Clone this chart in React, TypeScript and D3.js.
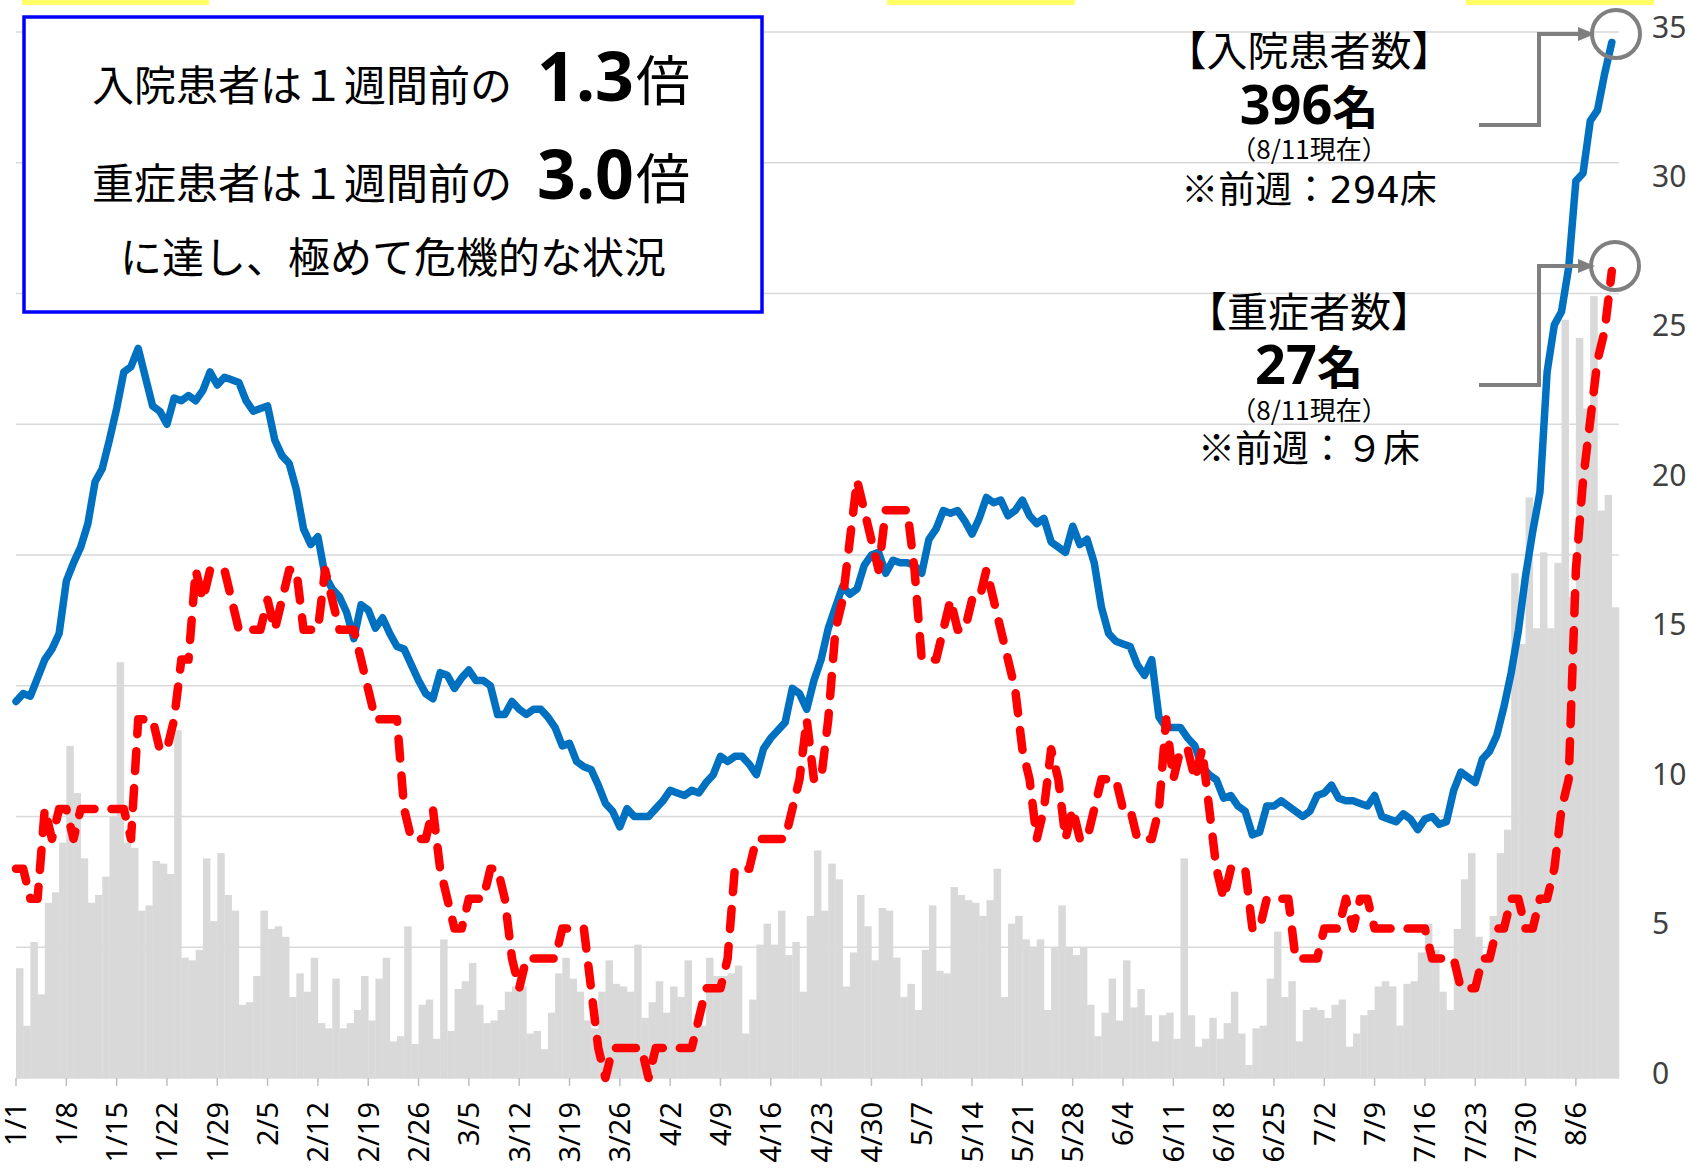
import { useEffect, useRef } from "react";
import * as d3 from "d3";

const W = 1690;
const H = 1168;
const PLOT = { left: 16, right: 1619, top: 32, bottom: 1078 };

// 1/1 .. 8/11 (2021)
const days = d3.timeDay
  .range(new Date(2021, 0, 1), new Date(2021, 7, 12))
  .map((d) => `${d.getMonth() + 1}/${d.getDate()}`);

// 入院患者数 (left axis, 0-400)
const inpatients = [
  144, 147, 146, 153, 160, 164, 170, 190, 197, 203,
  212, 228, 233, 244, 256, 270, 272, 279, 268, 257,
  255, 250, 260, 259, 261, 259, 263, 270, 265, 268,
  267, 266, 259, 255, 256, 257, 244, 238, 235, 225,
  210, 204, 207, 192, 187, 184, 178, 168, 181, 179,
  172, 176, 170, 165, 164, 158, 152, 147, 145, 155,
  154, 149, 153, 156, 152, 152, 150, 139, 139, 144,
  141, 139, 141, 141, 138, 134, 127, 128, 121, 119,
  118, 112, 105, 102, 96, 103, 100, 100, 100, 103,
  106, 110, 109, 108, 110, 109, 113, 116, 123, 121,
  123, 123, 120, 116, 126, 130, 133, 136, 149, 147,
  141, 152, 160, 172, 180, 188, 185, 187, 196, 200,
  201, 193, 198, 197, 197, 196, 193, 206, 210, 217,
  216, 217, 213, 208, 214, 222, 220, 221, 215, 217,
  221, 215, 212, 214, 205, 203, 201, 211, 204, 206,
  197, 180, 170, 167, 166, 165, 158, 154, 160, 138,
  134, 134, 134, 130, 127, 119, 116, 114, 107, 108,
  104, 102, 93, 94, 104, 104, 106, 104, 102, 100,
  102, 108, 109, 112, 107, 106, 106, 105, 104, 108,
  100, 99, 98, 101, 99, 95, 99, 100, 97, 98,
  110, 117, 115, 113, 122, 125, 131, 142, 155, 171,
  192, 209, 224, 270, 288, 293, 310, 343, 346, 366,
  370, 384, 396,
];

// 重症者数 (right axis, 0-35)
const severe = [
  7, 7, 6, 6, 9, 8, 9, 9, 8, 9,
  9, 9, 9, 9, 9, 9, 8, 12, 12, 12,
  11, 11, 12, 14, 14, 17, 16, 17, 17, 17,
  16, 15, 15, 15, 15, 16, 15, 16, 17, 17,
  15, 15, 15, 17, 16, 15, 15, 15, 14, 13,
  12, 12, 12, 12, 9, 8, 8, 8, 9, 7,
  6, 5, 5, 6, 6, 6, 7, 7, 6, 4,
  3, 4, 4, 4, 4, 4, 5, 5, 5, 5,
  3, 1, 0, 1, 1, 1, 1, 1, 0, 1,
  1, 1, 1, 1, 1, 2, 3, 3, 3, 4,
  7, 7, 7, 8, 8, 8, 8, 8, 9, 10,
  12, 10, 10, 12, 15, 16, 18, 20, 19, 18,
  17, 19, 19, 19, 19, 17, 14, 14, 14, 15,
  16, 15, 15, 16, 16, 17, 16, 15, 14, 13,
  11, 10, 8, 9, 11, 10, 8, 9, 8, 8,
  9, 10, 10, 10, 9, 9, 8, 8, 8, 9,
  12, 10, 11, 11, 10, 11, 9, 7, 6, 7,
  7, 7, 5, 5, 6, 6, 6, 6, 4, 4,
  4, 4, 5, 5, 5, 6, 5, 6, 6, 5,
  5, 5, 5, 5, 5, 5, 5, 4, 4, 4,
  4, 3, 3, 3, 4, 4, 5, 5, 6, 6,
  5, 5, 6, 6, 7, 9, 10, 17, 20, 22,
  24, 25, 27,
];

// 日別の棒 (left axis scale)
const dailyBars = [
  42, 20, 52, 32, 67, 71, 90, 127, 109, 84,
  67, 70, 77, 100, 159, 90, 88, 64, 66, 83,
  82, 78, 133, 46, 45, 49, 84, 60, 86, 70,
  64, 28, 29, 39, 64, 57, 58, 54, 31, 40,
  33, 46, 21, 19, 38, 19, 21, 26, 39, 22,
  38, 46, 14, 16, 58, 13, 28, 30, 15, 53,
  18, 34, 37, 44, 28, 21, 22, 26, 33, 35,
  35, 17, 18, 11, 25, 40, 46, 38, 33, 22,
  19, 33, 45, 36, 35, 33, 51, 23, 29, 37,
  25, 35, 31, 45, 20, 20, 46, 39, 39, 40,
  43, 17, 30, 51, 59, 51, 64, 47, 52, 33,
  62, 87, 64, 82, 76, 35, 48, 70, 58, 45,
  65, 64, 46, 31, 36, 26, 49, 66, 41, 40,
  73, 70, 68, 67, 62, 68, 80, 31, 59, 62,
  53, 50, 53, 26, 50, 66, 50, 47, 50, 28,
  16, 25, 38, 22, 45, 27, 34, 24, 14, 24,
  25, 15, 84, 24, 12, 15, 23, 15, 21, 33,
  17, 5, 19, 20, 38, 56, 31, 37, 14, 26,
  27, 26, 23, 28, 30, 12, 17, 24, 26, 35,
  37, 35, 20, 36, 37, 48, 59, 49, 33, 26,
  57, 76, 86, 54, 44, 62, 86, 95, 193, 166,
  222, 172, 201, 172, 197, 290, 184, 283, 256, 299,
  217, 223, 180,
];

const xTickLabels = [
  "1/1", "1/8", "1/15", "1/22", "1/29", "2/5", "2/12", "2/19", "2/26",
  "3/5", "3/12", "3/19", "3/26", "4/2", "4/9", "4/16", "4/23", "4/30",
  "5/7", "5/14", "5/21", "5/28", "6/4", "6/11", "6/18", "6/25", "7/2",
  "7/9", "7/16", "7/23", "7/30", "8/6",
];
const leftGrid = [50, 100, 150, 200, 250, 300, 350, 400];
const rightTicks = [0, 5, 10, 15, 20, 25, 30, 35];

const JP = "'Noto Sans CJK JP', 'Noto Sans', sans-serif";
const NUM = "'Noto Sans', 'DejaVu Sans', sans-serif";

export default function App() {
  const svgRef = useRef<SVGSVGElement | null>(null);

  useEffect(() => {
    if (!svgRef.current) return;
    const svg = d3.select(svgRef.current);
    svg.selectAll("*").remove();

    const x = d3
      .scaleBand<string>()
      .domain(days)
      .range([PLOT.left, PLOT.right])
      .padding(0);
    const bw = x.bandwidth();
    const yL = d3.scaleLinear().domain([0, 400]).range([PLOT.bottom, PLOT.top]);
    const yR = d3.scaleLinear().domain([0, 35]).range([PLOT.bottom, PLOT.top]);

    // yellow tabs at top
    [
      [22, 209],
      [887, 1075],
      [1466, 1654],
    ].forEach(([a, b]) =>
      svg.append("rect").attr("x", a).attr("y", 0).attr("width", b - a).attr("height", 5).attr("fill", "#FFFF66")
    );

    // gridlines
    svg
      .append("g")
      .selectAll("line")
      .data(leftGrid)
      .join("line")
      .attr("x1", PLOT.left)
      .attr("x2", PLOT.right)
      .attr("y1", (d) => yL(d))
      .attr("y2", (d) => yL(d))
      .attr("stroke", "#D9D9D9")
      .attr("stroke-width", 1.5);

    // daily bars
    svg
      .append("g")
      .selectAll("rect")
      .data(dailyBars)
      .join("rect")
      .attr("x", (_d, i) => x(days[i])!)
      .attr("width", bw + 0.3)
      .attr("y", (d) => yL(d))
      .attr("height", (d) => yL(0) - yL(d))
      .attr("fill", "#D9D9D9");

    // baseline + ticks
    svg
      .append("line")
      .attr("x1", PLOT.left)
      .attr("x2", PLOT.right)
      .attr("y1", PLOT.bottom)
      .attr("y2", PLOT.bottom)
      .attr("stroke", "#D9D9D9")
      .attr("stroke-width", 1.5);

    const tickG = svg
      .append("g")
      .selectAll("g")
      .data(xTickLabels)
      .join("g")
      .attr("transform", (_d, i) => `translate(${x(days[i * 7])},0)`);
    tickG
      .append("line")
      .attr("y1", PLOT.bottom)
      .attr("y2", PLOT.bottom + 8)
      .attr("stroke", "#BFBFBF")
      .attr("stroke-width", 1.5);
    tickG
      .append("text")
      .attr("transform", `translate(0,${PLOT.bottom + 24}) rotate(-90)`)
      .attr("text-anchor", "end")
      .attr("dy", "0.36em")
      .attr("font-family", NUM)
      .attr("font-size", 29)
      .attr("fill", "#000")
      .text((d) => d);

    // right axis labels
    svg
      .append("g")
      .selectAll("text")
      .data(rightTicks)
      .join("text")
      .attr("x", 1652)
      .attr("y", (d) => yR(d) - 5)
      .attr("dy", "0.35em")
      .attr("font-family", NUM)
      .attr("font-size", 30)
      .attr("fill", "#404040")
      .text((d) => d);

    // line points sit on the tick (left edge of each day)
    const px = (i: number) => x(days[i])!;

    // 入院患者数 line
    const blueLine = d3
      .line<number>()
      .x((_d, i) => px(i))
      .y((d) => yL(d));
    svg
      .append("path")
      .attr("d", blueLine(inpatients) ?? "")
      .attr("fill", "none")
      .attr("stroke", "#0070C0")
      .attr("stroke-width", 7.5)
      .attr("stroke-linejoin", "round")
      .attr("stroke-linecap", "round");

    // 重症者数 line
    const redLine = d3
      .line<number>()
      .x((_d, i) => px(i))
      .y((d) => yR(d));
    svg
      .append("path")
      .attr("d", redLine(severe) ?? "")
      .attr("fill", "none")
      .attr("stroke", "#FF0000")
      .attr("stroke-width", 8.5)
      .attr("stroke-dasharray", "20 17")
      .attr("stroke-linejoin", "round")
      .attr("stroke-linecap", "round");

    // summary box
    svg
      .append("rect")
      .attr("x", 24)
      .attr("y", 17)
      .attr("width", 738)
      .attr("height", 295)
      .attr("fill", "#fff")
      .attr("stroke", "#0000FF")
      .attr("stroke-width", 3.5);

    const boxLine = (y: number, lead: string, big: string) => {
      const t = svg.append("text").attr("y", y).attr("fill", "#000");
      t.append("tspan").attr("x", 92).attr("font-family", JP).attr("font-size", 42).text(lead);
      t.append("tspan")
        .attr("x", 537)
        .attr("font-family", NUM)
        .attr("font-weight", "bold")
        .attr("font-size", 68)
        .text(big);
      t.append("tspan").attr("x", 636).attr("font-family", JP).attr("font-size", 54).text("倍");
    };
    boxLine(101, "入院患者は１週間前の", "1.3");
    boxLine(199, "重症患者は１週間前の", "3.0");
    svg
      .append("text")
      .attr("x", 393)
      .attr("y", 273)
      .attr("text-anchor", "middle")
      .attr("font-family", JP)
      .attr("font-size", 42)
      .attr("fill", "#000")
      .text("に達し、極めて危機的な状況");

    // annotations
    const ann = (
      y0: number,
      title: string,
      num: string,
      prev: string,
      prevNumFont: string,
      nd: number[]
    ) => {
      const g = svg.append("g").attr("text-anchor", "middle").attr("fill", "#000");
      g.append("text")
        .attr("x", 1309)
        .attr("y", y0)
        .attr("font-family", JP)
        .attr("font-size", 41)
        .text(title);
      const n = g.append("text").attr("x", 1309).attr("y", y0 + nd[0]).attr("font-weight", "bold");
      n.append("tspan").attr("font-family", NUM).attr("font-size", 54).text(num);
      n.append("tspan").attr("font-family", JP).attr("font-size", 46).text("名");
      g.append("text")
        .attr("x", 1309)
        .attr("y", y0 + nd[1])
        .attr("font-family", JP)
        .attr("font-size", 26)
        .text("（8/11現在）");
      const p = g.append("text").attr("x", 1309).attr("y", y0 + nd[2]).attr("font-size", 37);
      p.append("tspan").attr("font-family", JP).text("※前週：");
      p.append("tspan").attr("font-family", prevNumFont).attr("font-size", 37).text(prev);
      p.append("tspan").attr("font-family", JP).text("床");
    };
    ann(66, "【入院患者数】", "396", "294", "'DejaVu Sans', sans-serif", [58, 93, 137]);
    ann(327, "【重症者数】", "27", "９", JP, [57, 93, 135]);

    // connectors
    const connector = (yFrom: number, yTo: number, circleX: number) => {
      svg
        .append("path")
        .attr("d", `M1479,${yFrom}H1539V${yTo}H1580`)
        .attr("fill", "none")
        .attr("stroke", "#7F7F7F")
        .attr("stroke-width", 4);
      svg
        .append("path")
        .attr("d", `M1578,${yTo - 7}L1595,${yTo}L1578,${yTo + 7}Z`)
        .attr("fill", "#7F7F7F");
      svg
        .append("circle")
        .attr("cx", circleX)
        .attr("cy", yTo)
        .attr("r", 24)
        .attr("fill", "none")
        .attr("stroke", "#7F7F7F")
        .attr("stroke-width", 4);
    };
    connector(125, 34, 1616);
    connector(385, 266, 1615);
  }, []);

  return (
    <div style={{ position: "absolute", left: 0, top: 0 }}>
      <svg ref={svgRef} width={W} height={H} style={{ display: "block", background: "#fff" }} />
    </div>
  );
}
